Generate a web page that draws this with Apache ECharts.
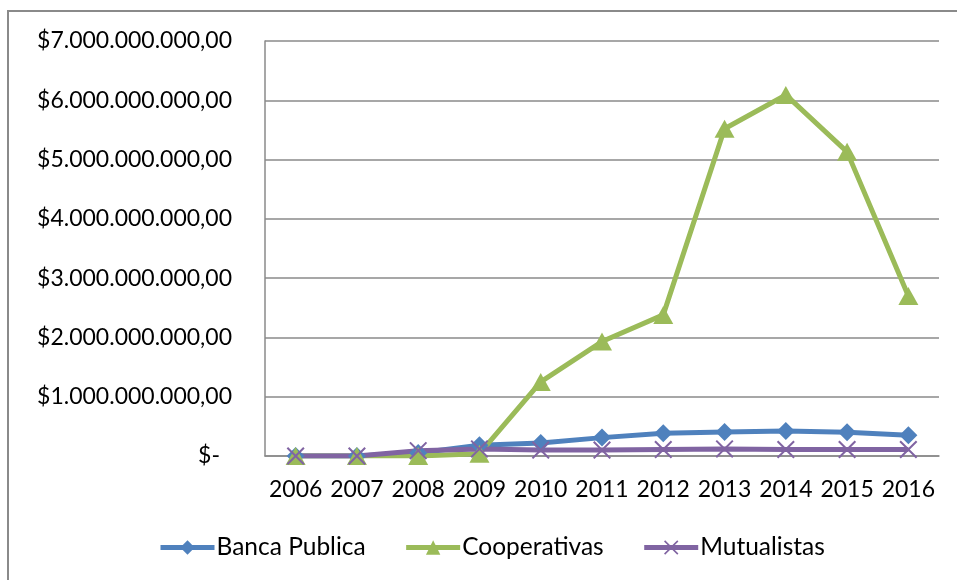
<!DOCTYPE html>
<html>
<head>
<meta charset="utf-8">
<script src="https://cdn.jsdelivr.net/npm/echarts@6/dist/echarts.min.js"></script>
<style>
  html, body { margin: 0; padding: 0; background: #fff; }
  #chart { width: 957px; height: 580px; }
</style>
</head>
<body>
<div id="chart"></div>
<script>
// Yearly amounts by type of institution
const years = ['2006', '2007', '2008', '2009', '2010', '2011', '2012', '2013', '2014', '2015', '2016'];
const bancaPublica = [0, 0, 50000000, 180000000, 220000000, 310000000, 385000000, 405000000, 420000000, 400000000, 350000000];
const cooperativas = [0, 0, 0, 40000000, 1250000000, 1930000000, 2380000000, 5520000000, 6090000000, 5130000000, 2700000000];
const mutualistas = [0, 0, 90000000, 120000000, 100000000, 100000000, 110000000, 120000000, 110000000, 110000000, 110000000];
const seriesNames = ['Banca Publica', 'Cooperativas', 'Mutualistas'];

const FONT = 'Lato';
const crossPath = 'path://M0,1.6L1.6,0L10,8.4L18.4,0L20,1.6L11.6,10L20,18.4L18.4,20L10,11.6L1.6,20L0,18.4L8.4,10Z';

// Accounting-style currency label: $7.000.000.000,00 ; zero shown as "$-"
function money(v) {
  if (v === 0) return '{z|$-}';
  const s = Math.round(v).toString().replace(/\B(?=(\d{3})+(?!\d))/g, '.');
  return '$' + s + ',00';
}

const chart = echarts.init(document.getElementById('chart'), null, { renderer: 'canvas' });
chart.setOption({
  animation: false,
  backgroundColor: '#ffffff',
  graphic: [{
    type: 'rect',
    shape: { x: 8, y: 11, width: 1000, height: 1000 },
    style: { fill: 'none', stroke: '#8a8a8a', lineWidth: 2 },
    silent: true
  }],
  grid: { left: 265, right: 18, top: 41, bottom: 124, containLabel: false },
  legend: {
    data: seriesNames,
    left: 158,
    top: 535,
    padding: 0,
    itemWidth: 54,
    itemHeight: 18,
    itemGap: 38,
    lineStyle: { width: 5 },
    textStyle: { fontFamily: FONT, fontSize: 24.5, color: '#000', padding: [0, 0, 0, -3] }
  },
  xAxis: {
    type: 'category',
    data: years,
    boundaryGap: true,
    axisLine: { lineStyle: { color: '#8a8a8a', width: 1.5 } },
    axisTick: { show: false },
    axisLabel: { fontFamily: FONT, fontSize: 23, color: '#000', margin: 22, interval: 0 }
  },
  yAxis: {
    type: 'value',
    min: 0,
    max: 7000000000,
    interval: 1000000000,
    axisLine: { show: true, lineStyle: { color: '#8a8a8a', width: 1.5 } },
    axisTick: { show: false },
    splitLine: { lineStyle: { color: '#8a8a8a', width: 1.5 } },
    axisLabel: {
      fontFamily: FONT, fontSize: 23, color: '#000', margin: 33,
      formatter: money,
      rich: { z: { fontFamily: FONT, fontSize: 23, color: '#000', padding: [0, 12, 0, 0] } }
    }
  },
  series: [
    {
      name: seriesNames[0], type: 'line', data: bancaPublica,
      symbol: 'diamond', symbolSize: 18, showAllSymbol: true,
      itemStyle: { color: '#4F81BD' },
      lineStyle: { color: '#4F81BD', width: 5 }
    },
    {
      name: seriesNames[1], type: 'line', data: cooperativas,
      symbol: 'triangle', symbolSize: [20, 18], showAllSymbol: true,
      itemStyle: { color: '#9BBB59' },
      lineStyle: { color: '#9BBB59', width: 5 }
    },
    {
      name: seriesNames[2], type: 'line', data: mutualistas,
      symbol: crossPath, symbolSize: 18, showAllSymbol: true,
      itemStyle: { color: '#8064A2' },
      lineStyle: { color: '#8064A2', width: 5 }
    }
  ]
});
</script>
</body>
</html>
